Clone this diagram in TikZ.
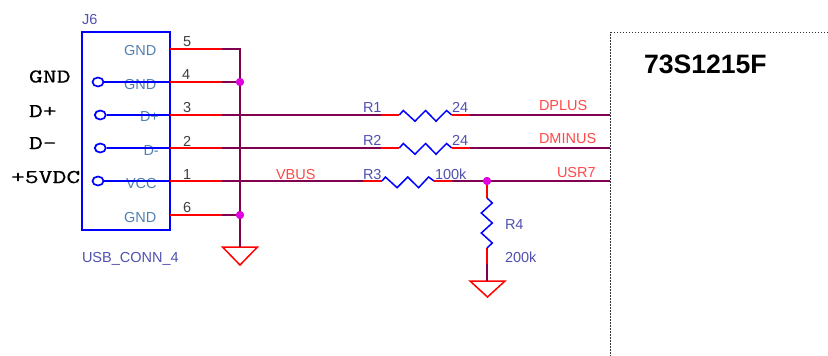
\documentclass[tikz,border=0pt]{standalone}
\usepackage{fontspec}
\setmainfont{Liberation Sans}
\newfontfamily\sidefont[FakeBold=0.35]{Latin Modern Mono}
\definecolor{netp}{HTML}{800050}
\definecolor{pinname}{HTML}{5080B0}
\definecolor{refblue}{HTML}{5050B0}
\definecolor{labred}{HTML}{FF4848}
\definecolor{junc}{HTML}{E000E0}
\usetikzlibrary{shapes.geometric}
\tikzset{
  lbl/.style={inner sep=0pt,outer sep=0pt,anchor=base west,font=\fontsize{14.5}{16}\selectfont},
  pinnm/.style={lbl,text=pinname},
  pinno/.style={lbl,text=black!75},
  refl/.style={lbl,text=refblue},
  netl/.style={lbl,text=labred},
  sidel/.style={inner sep=0pt,outer sep=0pt,anchor=base west,xscale=1.38,transform shape,font=\fontsize{19.5}{20}\selectfont\sidefont,text=black},
  titl/.style={inner sep=0pt,outer sep=0pt,anchor=base west,font=\fontsize{26.6}{28}\selectfont\bfseries},
  net/.style={draw=netp,line width=1.8pt},
  pinr/.style={draw=red,line width=1.8pt},
  pinb/.style={draw=blue,line width=1.7pt},
  res/.style={draw=blue,line width=1.5pt,line join=miter},
  gnds/.style={draw=red,line width=1.5pt,line join=miter},
  box/.style={draw=blue,line width=1.8pt,inner sep=0pt,outer sep=0pt,minimum width=88pt,minimum height=198pt,anchor=north west},
  dotj/.style={circle,fill=junc,inner sep=0pt,minimum size=8pt},
  conn/.style={draw=blue,line width=1.7pt,ellipse,inner sep=0pt,minimum width=11pt,minimum height=9pt},
  chip/.style={draw=black!80,line width=1pt,dash pattern=on 1.5pt off 1.5pt},
}
\begin{document}
\begin{tikzpicture}[x=1pt,y=-1pt]
\useasboundingbox (0,0) rectangle (828,356);
% connector body
\node[box] (j6) at (82,32) {};
% coordinates
\coordinate (e5) at (170,49); \coordinate (e4) at (170,82); \coordinate (e3) at (170,115);
\coordinate (e2) at (170,148); \coordinate (e1) at (170,181); \coordinate (e6) at (170,215);
\coordinate (m5) at (222,49); \coordinate (m4) at (222,82); \coordinate (m3) at (222,115);
\coordinate (m2) at (222,148); \coordinate (m1) at (222,181); \coordinate (m6) at (222,215);
\coordinate (corner) at (240,49);
\coordinate (gndA) at (240,247);
\coordinate (c3) at (610,115); \coordinate (c2) at (610,148); \coordinate (c1) at (610,181);
\coordinate (r1a) at (381,115); \coordinate (r1b) at (399.3,115); \coordinate (r1c) at (451.7,115); \coordinate (r1d) at (470,115);
\coordinate (r2a) at (381,148); \coordinate (r2b) at (399.3,148); \coordinate (r2c) at (451.7,148); \coordinate (r2d) at (470,148);
\coordinate (r3a) at (363,181); \coordinate (r3b) at (382,181); \coordinate (r3c) at (434,181); \coordinate (r3d) at (452,181);
\coordinate (r4b) at (487,198); \coordinate (r4c) at (487,248); \coordinate (r4d) at (487,264); \coordinate (gndB) at (487,281);
\node[dotj] (j4) at (240,82) {};
\node[dotj] (j6d) at (240,215) {};
\node[dotj] (jr) at (487,181) {};
% nets
\draw[net] (m5) -- (corner) -- (gndA);
\draw[net] (m4) -- (j4);
\draw[net] (m6) -- (j6d);
\draw[net] (m3) -- (r1a); \draw[net] (r1d) -- (c3);
\draw[net] (m2) -- (r2a); \draw[net] (r2d) -- (c2);
\draw[net] (m1) -- (r3a); \draw[net] (r3d) -- (c1);
% red pins
\foreach \n in {5,4,3,2,1,6} \draw[pinr] (e\n) -- (m\n);
\draw[pinr] (r1a) -- (r1b); \draw[pinr] (r1c) -- (r1d);
\draw[pinr] (r2a) -- (r2b); \draw[pinr] (r2c) -- (r2d);
\draw[pinr] (r3a) -- (r3b); \draw[pinr] (r3c) -- (r3d);
\draw[pinr] (jr) -- (r4b); \draw[pinr] (r4c) -- (r4d);
% resistors
\draw[res] (r1b) -- ++(4,-4.5) -- ++(11.7,10.7) -- ++(10.6,-10.7) -- ++(10.4,10.7) -- ++(10.6,-10.7) -- (r1c);
\draw[res] (r2b) -- ++(4,-4.5) -- ++(11.7,10.7) -- ++(10.6,-10.7) -- ++(10.4,10.7) -- ++(10.6,-10.7) -- (r2c);
\draw[res] (r3b) -- ++(3.4,-4) -- ++(11.7,10.7) -- ++(10.6,-10.7) -- ++(10.9,10.7) -- ++(10,-10.7) -- (r3c);
\draw[res] (r4b) -- ++(5.3,5) -- ++(-11,10) -- ++(11,10) -- ++(-11,10) -- ++(11,10) -- (r4c);
% grounds
\draw[gnds] (222.5,247) -- (257.5,247) -- (240,265) -- cycle;
\draw[gnds] (470,281) -- (505,281) -- (487.5,297) -- cycle;
\draw[net] (corner) -- (gndA);
\draw[net] (r4d) -- (gndB);
% junction dots on top
\node[dotj] at (j4) {};
\node[dotj] at (j6d) {};
\node[dotj] at (jr) {};
% chip
\draw[chip] (828,32.5) -- (610.5,32.5) -- (610.5,356);
% pin names under the blue wires
\node[pinnm] (n5) at (124,55.5) {GND};
\node[pinnm] (n4) at (124,89) {GND};
\node[pinnm] (n3) at (140,121.5) {D+};
\node[pinnm] (n2) at (143.5,155.5) {D-};
\node[pinnm] (n1) at (126,188.5) {VCC};
\node[pinnm] (n6) at (124,222) {GND};
% plug circles and blue wires
\node[conn] (o4) at (98,82) {};
\node[conn] (o3) at (100.3,115) {};
\node[conn] (o2) at (100.3,148) {};
\node[conn] (o1) at (98,181) {};
\draw[pinb] (o4) -- (e4);
\draw[pinb] (o3) -- (e3);
\draw[pinb] (o2) -- (e2);
\draw[pinb] (o1) -- (e1);
% pin numbers
\node[pinno] (p5) at (183,46) {5};
\node[pinno] (p4) at (182,79) {4};
\node[pinno] (p3) at (183,112) {3};
\node[pinno] (p2) at (183,146) {2};
\node[pinno] (p1) at (183,179) {1};
\node[pinno] (p6) at (183,212) {6};
% refs
\node[refl] (tJ) at (82,24) {J6};
\node[refl] (tU) at (82,262) {USB\_CONN\_4};
\node[refl] (tR1) at (363,112.5) {R1};
\node[refl] (v1) at (452,112.5) {24};
\node[refl] (tR2) at (363,145.5) {R2};
\node[refl] (v2) at (452,145.5) {24};
\node[refl] (tR3) at (363,179) {R3};
\node[refl] (v3) at (435,179) {100k};
\node[refl] (tR4) at (505,229) {R4};
\node[refl] (v4) at (505,262) {200k};
% net labels
\node[netl] (lV) at (276,179) {VBUS};
\node[netl] (lP) at (539,110.5) {DPLUS};
\node[netl] (lM) at (539,143.5) {DMINUS};
\node[netl] (lU) at (557,177) {USR7};
% title and side labels
\node[titl] (title) at (644,73) {73S1215F};
\node[sidel] (s1) at (29,82.5) {GND};
\node[sidel] (s2) at (29,117) {D+};
\node[sidel] (s3) at (29,149) {D-};
\node[sidel] (s4) at (11,183) {+5VDC};
\end{tikzpicture}
\end{document}
